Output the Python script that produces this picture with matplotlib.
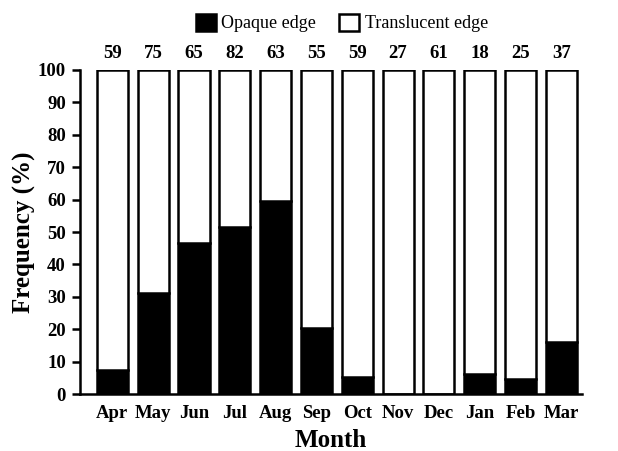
import matplotlib.pyplot as plt
from matplotlib.patches import Patch
import numpy as np

plt.rcParams['font.family'] = ['Liberation Serif', 'DejaVu Serif']
plt.rcParams['font.weight'] = 'bold'

months = ['Apr', 'May', 'Jun', 'Jul', 'Aug', 'Sep', 'Oct', 'Nov', 'Dec', 'Jan', 'Feb', 'Mar']
opaque = [7.4, 31.2, 46.6, 51.5, 59.6, 20.4, 5.2, 0, 0, 6.2, 4.6, 16.0]
n_samples = [59, 75, 65, 82, 63, 55, 59, 27, 61, 18, 25, 37]
translucent = [100 - v for v in opaque]

fig = plt.figure(figsize=(6.18, 4.51), dpi=100)
ax = fig.add_axes([0.129, 0.126, 0.813, 0.719])

x = np.arange(len(months))
w = 0.76
ax.bar(x, opaque, w, color='black', edgecolor='black', linewidth=1.8)
ax.bar(x, translucent, w, bottom=opaque, color='white', edgecolor='black', linewidth=1.8)

# sample sizes above bars
for xi, n in zip(x, n_samples):
    ax.text(xi, 102.5, str(n), ha='center', va='bottom', fontsize=13.5, fontweight='bold')

ax.set_xlim(-0.8, 11.51)
ax.set_ylim(0, 100)
ax.set_yticks(range(0, 101, 10))
ax.set_xticks(x)
ax.set_xticklabels(months, fontsize=13.5, fontweight='bold')
ax.tick_params(axis='x', length=0, pad=8)
ax.tick_params(axis='y', labelsize=13.5, width=1.8, length=6, direction='out', pad=4)
for s in ['top', 'right']:
    ax.spines[s].set_visible(False)
for s in ['left', 'bottom']:
    ax.spines[s].set_linewidth(1.8)

ax.set_ylabel('Frequency (%)', fontsize=18, fontweight='bold', labelpad=1)
ax.set_xlabel('Month', fontsize=18, fontweight='bold', labelpad=5)

handles = [Patch(facecolor='black', edgecolor='black', linewidth=1.8, label='Opaque edge'),
           Patch(facecolor='white', edgecolor='black', linewidth=1.8, label='Translucent edge')]
fig.legend(handles=handles, loc='upper center', bbox_to_anchor=(0.553, 1.006), ncol=2,
           frameon=False, prop={'size': 13, 'weight': 'normal'},
           handlelength=1.1, handleheight=1.1, handletextpad=0.3, columnspacing=1.3)

fig.savefig('out.png', dpi=100)
